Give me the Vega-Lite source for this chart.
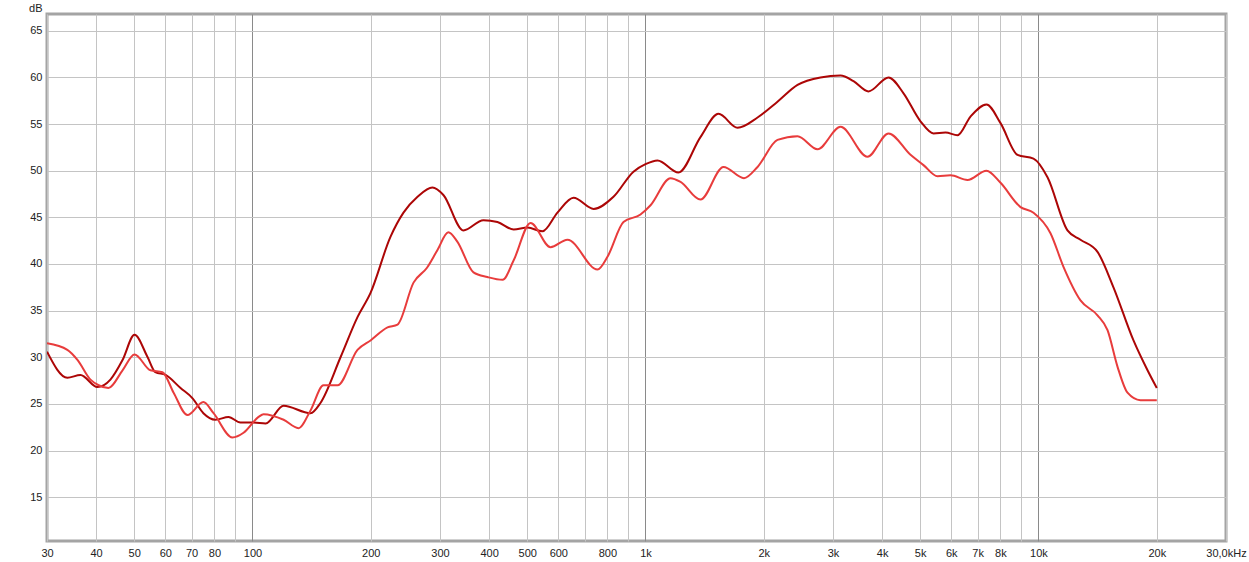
{
  "$schema": "https://vega.github.io/schema/vega-lite/v6.json",
  "width": 1179,
  "height": 527,
  "autosize": "none",
  "padding": {"left": 47, "top": 14, "right": 23, "bottom": 21},
  "background": "white",
  "config": {
    "view": {"stroke": "#a4a4a4", "strokeWidth": 3},
    "font": "Liberation Sans"
  },
  "datasets": {
    "curves": [
      {"f": 30, "db": 30.6, "s": "A"},
      {"f": 33.8, "db": 27.8, "s": "A"},
      {"f": 36.5, "db": 28.1, "s": "A"},
      {"f": 40.3, "db": 26.8, "s": "A"},
      {"f": 43.5, "db": 27.6, "s": "A"},
      {"f": 46.7, "db": 29.7, "s": "A"},
      {"f": 50.1, "db": 32.4, "s": "A"},
      {"f": 54.1, "db": 30.0, "s": "A"},
      {"f": 56.6, "db": 28.4, "s": "A"},
      {"f": 60.1, "db": 28.1, "s": "A"},
      {"f": 65.6, "db": 26.7, "s": "A"},
      {"f": 70.4, "db": 25.6, "s": "A"},
      {"f": 75, "db": 24.0, "s": "A"},
      {"f": 80.5, "db": 23.3, "s": "A"},
      {"f": 86.9, "db": 23.6, "s": "A"},
      {"f": 93.2, "db": 23.0, "s": "A"},
      {"f": 100.6, "db": 23.0, "s": "A"},
      {"f": 108, "db": 22.9, "s": "A"},
      {"f": 120, "db": 24.8, "s": "A"},
      {"f": 140.5, "db": 24.0, "s": "A"},
      {"f": 148.9, "db": 25.1, "s": "A"},
      {"f": 167.5, "db": 30.0, "s": "A"},
      {"f": 185, "db": 34.3, "s": "A"},
      {"f": 199.7, "db": 36.9, "s": "A"},
      {"f": 224.4, "db": 42.9, "s": "A"},
      {"f": 242.2, "db": 45.5, "s": "A"},
      {"f": 263, "db": 47.2, "s": "A"},
      {"f": 287, "db": 48.2, "s": "A"},
      {"f": 306, "db": 47.4, "s": "A"},
      {"f": 344, "db": 43.6, "s": "A"},
      {"f": 387, "db": 44.7, "s": "A"},
      {"f": 420, "db": 44.5, "s": "A"},
      {"f": 462, "db": 43.7, "s": "A"},
      {"f": 501, "db": 43.9, "s": "A"},
      {"f": 547, "db": 43.5, "s": "A"},
      {"f": 597, "db": 45.5, "s": "A"},
      {"f": 656, "db": 47.1, "s": "A"},
      {"f": 738, "db": 45.9, "s": "A"},
      {"f": 829, "db": 47.2, "s": "A"},
      {"f": 932, "db": 49.9, "s": "A"},
      {"f": 1000, "db": 50.7, "s": "A"},
      {"f": 1073, "db": 51.1, "s": "A"},
      {"f": 1213, "db": 49.8, "s": "A"},
      {"f": 1380, "db": 53.6, "s": "A"},
      {"f": 1534, "db": 56.1, "s": "A"},
      {"f": 1715, "db": 54.6, "s": "A"},
      {"f": 1928, "db": 55.7, "s": "A"},
      {"f": 2167, "db": 57.4, "s": "A"},
      {"f": 2437, "db": 59.2, "s": "A"},
      {"f": 2788, "db": 60.0, "s": "A"},
      {"f": 3135, "db": 60.2, "s": "A"},
      {"f": 3383, "db": 59.6, "s": "A"},
      {"f": 3694, "db": 58.5, "s": "A"},
      {"f": 4153, "db": 60.0, "s": "A"},
      {"f": 4535, "db": 58.3, "s": "A"},
      {"f": 5008, "db": 55.3, "s": "A"},
      {"f": 5406, "db": 54.0, "s": "A"},
      {"f": 5800, "db": 54.1, "s": "A"},
      {"f": 6222, "db": 53.8, "s": "A"},
      {"f": 6714, "db": 55.8, "s": "A"},
      {"f": 7374, "db": 57.1, "s": "A"},
      {"f": 8006, "db": 55.1, "s": "A"},
      {"f": 8843, "db": 51.7, "s": "A"},
      {"f": 9712, "db": 51.3, "s": "A"},
      {"f": 10542, "db": 49.3, "s": "A"},
      {"f": 11851, "db": 43.6, "s": "A"},
      {"f": 12790, "db": 42.6, "s": "A"},
      {"f": 14130, "db": 41.3, "s": "A"},
      {"f": 15515, "db": 37.5, "s": "A"},
      {"f": 17448, "db": 31.8, "s": "A"},
      {"f": 18942, "db": 28.6, "s": "A"},
      {"f": 20000, "db": 26.7, "s": "A"},

      {"f": 30, "db": 31.5, "s": "B"},
      {"f": 33.8, "db": 30.8, "s": "B"},
      {"f": 35.9, "db": 29.7, "s": "B"},
      {"f": 38.7, "db": 27.6, "s": "B"},
      {"f": 40.6, "db": 27.0, "s": "B"},
      {"f": 43, "db": 26.7, "s": "B"},
      {"f": 46.7, "db": 28.6, "s": "B"},
      {"f": 50.1, "db": 30.3, "s": "B"},
      {"f": 55, "db": 28.6, "s": "B"},
      {"f": 59, "db": 28.4, "s": "B"},
      {"f": 63, "db": 26.2, "s": "B"},
      {"f": 68.3, "db": 23.8, "s": "B"},
      {"f": 75, "db": 25.2, "s": "B"},
      {"f": 79.6, "db": 24.0, "s": "B"},
      {"f": 88.9, "db": 21.4, "s": "B"},
      {"f": 94.9, "db": 21.9, "s": "B"},
      {"f": 103.6, "db": 23.6, "s": "B"},
      {"f": 106.7, "db": 23.9, "s": "B"},
      {"f": 120, "db": 23.3, "s": "B"},
      {"f": 130.9, "db": 22.4, "s": "B"},
      {"f": 140.5, "db": 24.3, "s": "B"},
      {"f": 151.6, "db": 27.0, "s": "B"},
      {"f": 164.6, "db": 27.0, "s": "B"},
      {"f": 185, "db": 30.8, "s": "B"},
      {"f": 199.7, "db": 31.8, "s": "B"},
      {"f": 220.6, "db": 33.2, "s": "B"},
      {"f": 233.9, "db": 33.5, "s": "B"},
      {"f": 256.9, "db": 38.0, "s": "B"},
      {"f": 278, "db": 39.6, "s": "B"},
      {"f": 295.6, "db": 41.5, "s": "B"},
      {"f": 315, "db": 43.4, "s": "B"},
      {"f": 332, "db": 42.4, "s": "B"},
      {"f": 365, "db": 39.1, "s": "B"},
      {"f": 396, "db": 38.6, "s": "B"},
      {"f": 433, "db": 38.3, "s": "B"},
      {"f": 462, "db": 40.4, "s": "B"},
      {"f": 510, "db": 44.4, "s": "B"},
      {"f": 573, "db": 41.8, "s": "B"},
      {"f": 633, "db": 42.6, "s": "B"},
      {"f": 755, "db": 39.4, "s": "B"},
      {"f": 801, "db": 40.8, "s": "B"},
      {"f": 879, "db": 44.5, "s": "B"},
      {"f": 971, "db": 45.3, "s": "B"},
      {"f": 1030, "db": 46.3, "s": "B"},
      {"f": 1158, "db": 49.2, "s": "B"},
      {"f": 1228, "db": 48.8, "s": "B"},
      {"f": 1380, "db": 46.9, "s": "B"},
      {"f": 1579, "db": 50.4, "s": "B"},
      {"f": 1781, "db": 49.2, "s": "B"},
      {"f": 1928, "db": 50.4, "s": "B"},
      {"f": 2167, "db": 53.3, "s": "B"},
      {"f": 2437, "db": 53.7, "s": "B"},
      {"f": 2740, "db": 52.3, "s": "B"},
      {"f": 3135, "db": 54.7, "s": "B"},
      {"f": 3672, "db": 51.5, "s": "B"},
      {"f": 4153, "db": 54.0, "s": "B"},
      {"f": 4724, "db": 51.7, "s": "B"},
      {"f": 5098, "db": 50.6, "s": "B"},
      {"f": 5534, "db": 49.4, "s": "B"},
      {"f": 5972, "db": 49.5, "s": "B"},
      {"f": 6596, "db": 49.0, "s": "B"},
      {"f": 7374, "db": 50.0, "s": "B"},
      {"f": 8006, "db": 48.7, "s": "B"},
      {"f": 9000, "db": 46.1, "s": "B"},
      {"f": 9712, "db": 45.5, "s": "B"},
      {"f": 10728, "db": 43.3, "s": "B"},
      {"f": 11576, "db": 39.7, "s": "B"},
      {"f": 12790, "db": 36.1, "s": "B"},
      {"f": 14130, "db": 34.5, "s": "B"},
      {"f": 14985, "db": 32.9, "s": "B"},
      {"f": 15885, "db": 29.0, "s": "B"},
      {"f": 16846, "db": 26.2, "s": "B"},
      {"f": 18175, "db": 25.4, "s": "B"},
      {"f": 20000, "db": 25.4, "s": "B"}
    ]
  },
  "data": {"name": "curves"},
  "mark": {"type": "line", "interpolate": "monotone", "strokeWidth": 2, "clip": true},
  "encoding": {
    "x": {
      "field": "f",
      "type": "quantitative",
      "scale": {"type": "log", "domain": [30, 30000], "nice": false},
      "axis": {
        "title": null,
        "values": [30, 40, 50, 60, 70, 80, 90, 100, 200, 300, 400, 500, 600, 700, 800, 900, 1000, 2000, 3000, 4000, 5000, 6000, 7000, 8000, 9000, 10000, 20000, 30000],
        "labelExpr": "datum.value == 90 || datum.value == 700 || datum.value == 900 || datum.value == 9000 ? '' : datum.value == 30000 ? '30,0kHz' : datum.value >= 1000 ? (datum.value / 1000) + 'k' : datum.value + ''",
        "grid": true,
        "gridColor": {"condition": {"test": "datum.value == 100 || datum.value == 1000 || datum.value == 10000", "value": "#8a8a8a"}, "value": "#c4c4c4"},
        "gridWidth": 1,
        "domain": false,
        "ticks": false,
        "labelPadding": 6,
        "labelFontSize": 11,
        "labelColor": "#222222",
        "labelFont": "Liberation Sans",
        "labelOverlap": false,
        "labelFlush": false,
        "labelBound": false
      }
    },
    "y": {
      "field": "db",
      "type": "quantitative",
      "scale": {"domain": [10.3, 66.8], "nice": false, "zero": false},
      "axis": {
        "title": "dB",
        "titleAngle": 0,
        "titleAlign": "right",
        "titleBaseline": "alphabetic",
        "titleX": -5,
        "titleY": -3,
        "titleFontSize": 11,
        "titleFontWeight": "normal",
        "titleColor": "#222222",
        "titleFont": "Liberation Sans",
        "values": [15, 20, 25, 30, 35, 40, 45, 50, 55, 60, 65],
        "grid": true,
        "gridColor": "#c4c4c4",
        "domain": false,
        "ticks": false,
        "labelPadding": 5,
        "labelFontSize": 11,
        "labelColor": "#222222",
        "labelFont": "Liberation Sans"
      }
    },
    "color": {
      "field": "s",
      "type": "nominal",
      "scale": {"domain": ["A", "B"], "range": ["#ac0606", "#e83c3c"]},
      "legend": null
    }
  }
}
